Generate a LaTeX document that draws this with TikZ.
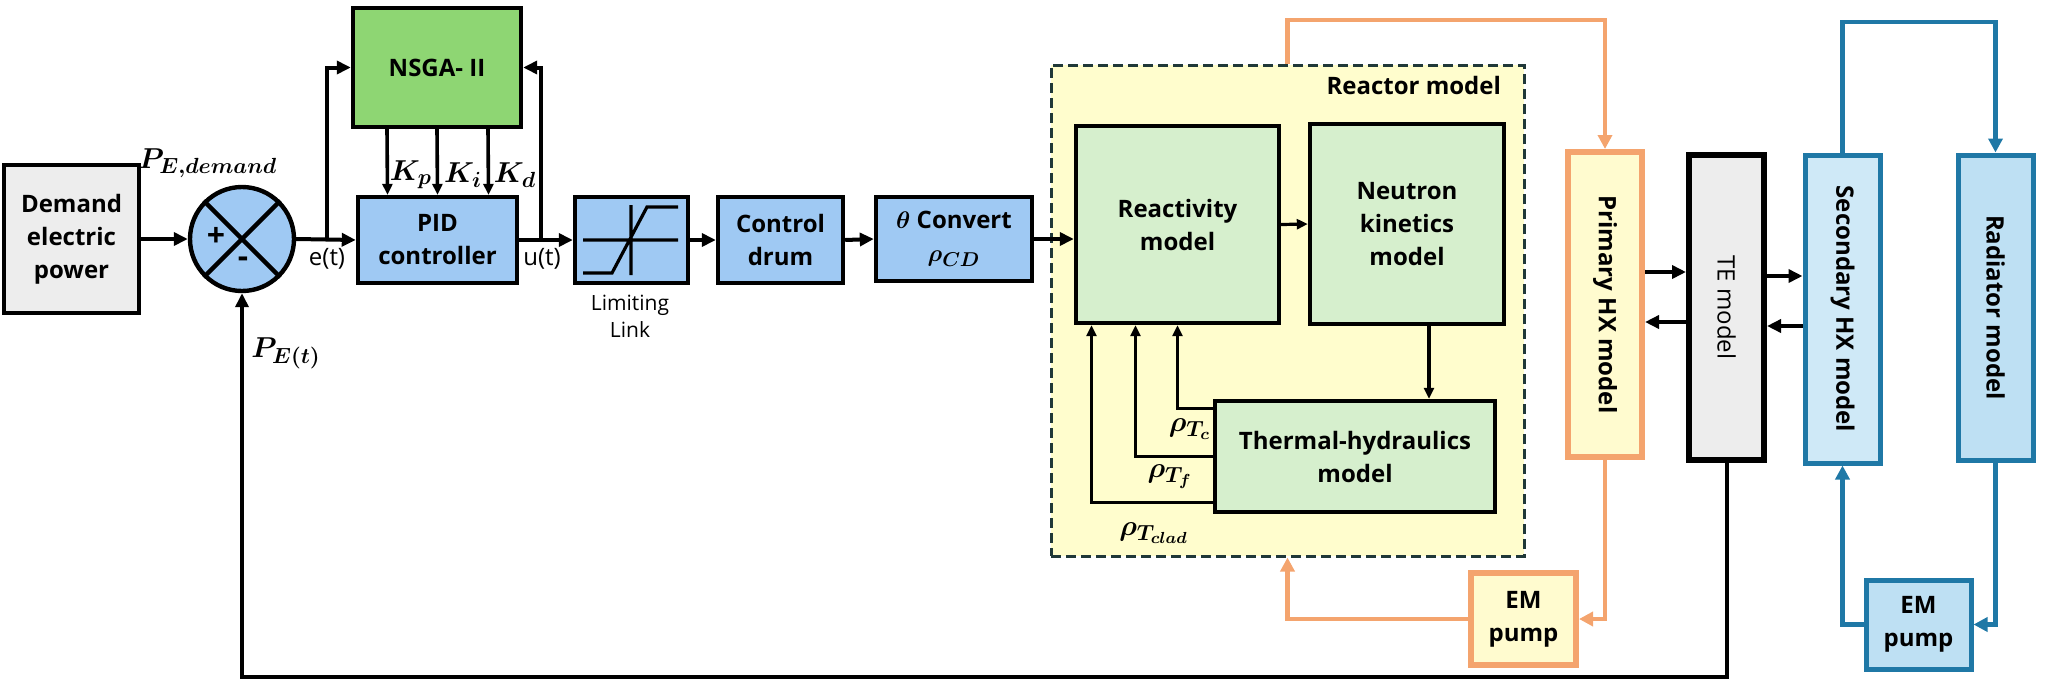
\documentclass[tikz,border=0pt]{standalone}
\usepackage{fontspec}
\setmainfont{Open Sans}
\usetikzlibrary{arrows.meta}
\DeclareMathSizes{13.5}{13.5}{10.5}{8.5}
\DeclareMathSizes{12}{12}{10}{8}

\definecolor{demandgray}{RGB}{237,237,237}
\definecolor{ctrlblue}{RGB}{159,201,243}
\definecolor{nsgagreen}{RGB}{142,214,115}
\definecolor{modelgreen}{RGB}{214,239,205}
\definecolor{reactoryellow}{RGB}{255,253,205}
\definecolor{hxorange}{RGB}{244,164,110}
\definecolor{hxyellow}{RGB}{255,251,207}
\definecolor{loopblue}{RGB}{31,120,166}
\definecolor{hxblue}{RGB}{207,233,247}
\definecolor{radblue}{RGB}{190,224,243}
\definecolor{dashgray}{RGB}{32,56,56}

\begin{document}
\begin{tikzpicture}[x=0.5pt,y=0.5pt,yscale=-1,
    box/.style={draw,line width=2.2pt,inner sep=0pt,align=center,font=\fontsize{12}{16.5}\selectfont\bfseries},
    ctrl/.style={box,fill=ctrlblue},
    model/.style={box,fill=modelgreen},
    sig/.style={line width=2pt,-{Triangle[length=7pt,width=6.5pt]}},
    fbk/.style={line width=1.6pt,-{Triangle[length=5.5pt,width=5pt]}},
    oline/.style={draw=hxorange,line width=2.2pt,-{Triangle[length=7pt,width=7pt]}},
    bline/.style={draw=loopblue,line width=2.2pt,-{Triangle[length=7pt,width=7pt]}},
    mlabel/.style={font=\fontsize{13.5}{15}\selectfont\boldmath},
    txt/.style={font=\fontsize{12}{16.5}\selectfont\bfseries},
    plain/.style={font=\fontsize{12}{16.5}\selectfont}]
    \useasboundingbox (0,0) rectangle (2046,686);

    %Reactor frame
    \node[draw=dashgray,fill=reactoryellow,dash pattern=on 5pt off 2.5pt,line width=1.5pt,minimum width=236.5pt,minimum height=245.5pt] (reactor) at (1287.5,310.5) {};
    \node[txt,anchor=east] (reactorlbl) at (1508,85) {Reactor model};

    %Control chain
    \node[box,fill=demandgray,minimum width=67.5pt,minimum height=74pt] (demand) at (71.5,239) {Demand\\electric\\power};
    \node[ctrl,circle,minimum size=52pt] (sum) at (242,239) {};
    \draw[line width=2.2pt] (sum.north west) -- (sum.south east) (sum.north east) -- (sum.south west);
    \node[font=\fontsize{16}{16}\selectfont\bfseries] (plus) at (216,237) {+};
    \node[font=\fontsize{16}{16}\selectfont\bfseries] (minus) at (243,262) {-};
    \node[box,fill=nsgagreen,minimum width=84pt,minimum height=59.5pt] (nsga) at (437,67.5) {NSGA- II};
    \node[ctrl,minimum width=79.5pt,minimum height=43pt] (pid) at (437.5,240) {PID\\controller};
    \node[ctrl,minimum width=56.5pt,minimum height=43pt] (limit) at (631.5,240) {};
    \draw[line width=1.6pt] (583,240) -- (678,240) (631,205) -- (631,275)
        (583,273) -- (612,273) -- (647,207) -- (678,207);
    \node[font=\fontsize{10.5}{13.5}\selectfont,align=center] (limitlbl) at (630,316) {Limiting\\Link};
    \node[ctrl,minimum width=62.5pt,minimum height=43pt] (drum) at (780.5,240) {Control\\drum};
    \node[ctrl,minimum width=78pt,minimum height=42pt] (conv) at (954,239) {{\boldmath$\theta$} Convert\\{\boldmath$\rho_{CD}$}};

    %Reactor blocks
    \node[model,minimum width=101.5pt,minimum height=98.5pt] (react) at (1177.5,224.5) {Reactivity\\model};
    \node[model,minimum width=97pt,minimum height=100pt] (neutron) at (1407,224) {Neutron\\kinetics\\model};
    \node[model,minimum width=140pt,minimum height=55.5pt] (th) at (1355,456.5) {Thermal-hydraulics\\model};

    %Loops
    \node[box,draw=hxorange,line width=3pt,fill=hxyellow,minimum width=37pt,minimum height=152.5pt] (phx) at (1605,304.5) {\rotatebox{-90}{Primary HX model}};
    \node[box,line width=3pt,fill=demandgray,minimum width=37.5pt,minimum height=152.5pt] (te) at (1726.5,307.5) {\rotatebox{-90}{\mdseries TE model}};
    \node[box,draw=loopblue,line width=2.5pt,fill=hxblue,minimum width=37.5pt,minimum height=154pt] (shx) at (1842.5,309) {\rotatebox{-90}{Secondary HX model}};
    \node[box,draw=loopblue,line width=2.5pt,fill=radblue,minimum width=37.5pt,minimum height=152.5pt] (rad) at (1995.5,307.5) {\rotatebox{-90}{Radiator model}};
    \node[box,draw=hxorange,line width=3pt,fill=hxyellow,minimum width=52.5pt,minimum height=46pt] (pump1) at (1523.5,619) {EM\\pump};
    \node[box,draw=loopblue,line width=2.5pt,fill=radblue,minimum width=52.5pt,minimum height=44.5pt] (pump2) at (1918.5,624.5) {EM\\pump};

    %Signals
    \coordinate (eb) at (327,239);
    \coordinate (ub) at (541,240);
    \coordinate (fbl) at (242,677);
    \draw[sig] (demand.east) -- (sum.west);
    \draw[sig] (sum.east) -- (pid.west);
    \draw[sig] (eb) |- (nsga.west);
    \draw[sig] (pid.east) -- (limit.west);
    \draw[sig] (ub) |- (nsga.east);
    \draw[fbk,line width=1.8pt] ([xshift=-25pt]nsga.south) -- ([xshift=-25pt]pid.north);
    \draw[fbk,line width=1.8pt] (nsga.south) -- (pid.north);
    \draw[fbk,line width=1.8pt] ([xshift=25.5pt]nsga.south) -- ([xshift=25.5pt]pid.north);
    \draw[sig] (limit.east) -- (drum.west);
    \draw[sig] (drum.east) -- (conv.west);
    \draw[sig] (conv.east) -- (conv.east -| react.west);
    \draw[fbk] (react.east) -- (neutron.west);
    \draw[fbk] ([xshift=11pt]neutron.south) -- ([xshift=11pt]neutron.south |- th.north);
    \draw[fbk] ([yshift=-24pt]th.west) -| (react.south);
    \draw[fbk] (th.west) -| ([xshift=-21pt]react.south);
    \draw[fbk] ([yshift=23pt]th.west) -| ([xshift=-43pt]react.south);
    \draw[sig,line width=2.4pt] ([yshift=-16.25pt]phx.east) -- ([yshift=-16.25pt]phx.east -| te.west);
    \draw[sig,line width=2.4pt] ([yshift=7.25pt]te.west) -- ([yshift=7.25pt]te.west -| phx.east);
    \draw[sig,line width=2.4pt] ([yshift=-15.75pt]te.east) -- ([yshift=-15.75pt]te.east -| shx.west);
    \draw[sig,line width=2.4pt] ([yshift=8.5pt]shx.west) -- ([yshift=8.5pt]shx.west -| te.east);
    \draw[sig] (te.south) |- (fbl) -- (sum.south);

    %Coolant loops
    \coordinate (otop) at (1287.5,20);
    \coordinate (btop) at (1842.5,22);
    \draw[oline] (reactor.north) -- (otop) -| (phx.north);
    \draw[oline] (phx.south) |- (pump1.east);
    \draw[oline] (pump1.west) -| (reactor.south);
    \draw[bline] (shx.north) -- (btop) -| (rad.north);
    \draw[bline] (rad.south) |- (pump2.east);
    \draw[bline] (pump2.west) -| (shx.south);

    % Text Node
    \node[mlabel] (pdem) at (208,163) {$P_{E,demand}$};
    \node[mlabel] (pet) at (286,353) {$P_{E(t)}$};
    \node[mlabel] (kp) at (411,175) {$K_p$};
    \node[mlabel] (ki) at (463,175) {$K_i$};
    \node[mlabel] (kd) at (515,175) {$K_d$};
    \node[plain] (et) at (327,259) {e(t)};
    \node[plain] (ut) at (542,259) {u(t)};
    \node[mlabel] (rtc) at (1190,429) {$\rho_{T_c}$};
    \node[mlabel] (rtf) at (1170,477) {$\rho_{T_f}$};
    \node[mlabel] (rtclad) at (1154,533) {$\rho_{T_{clad}}$};
\end{tikzpicture}
\end{document}
